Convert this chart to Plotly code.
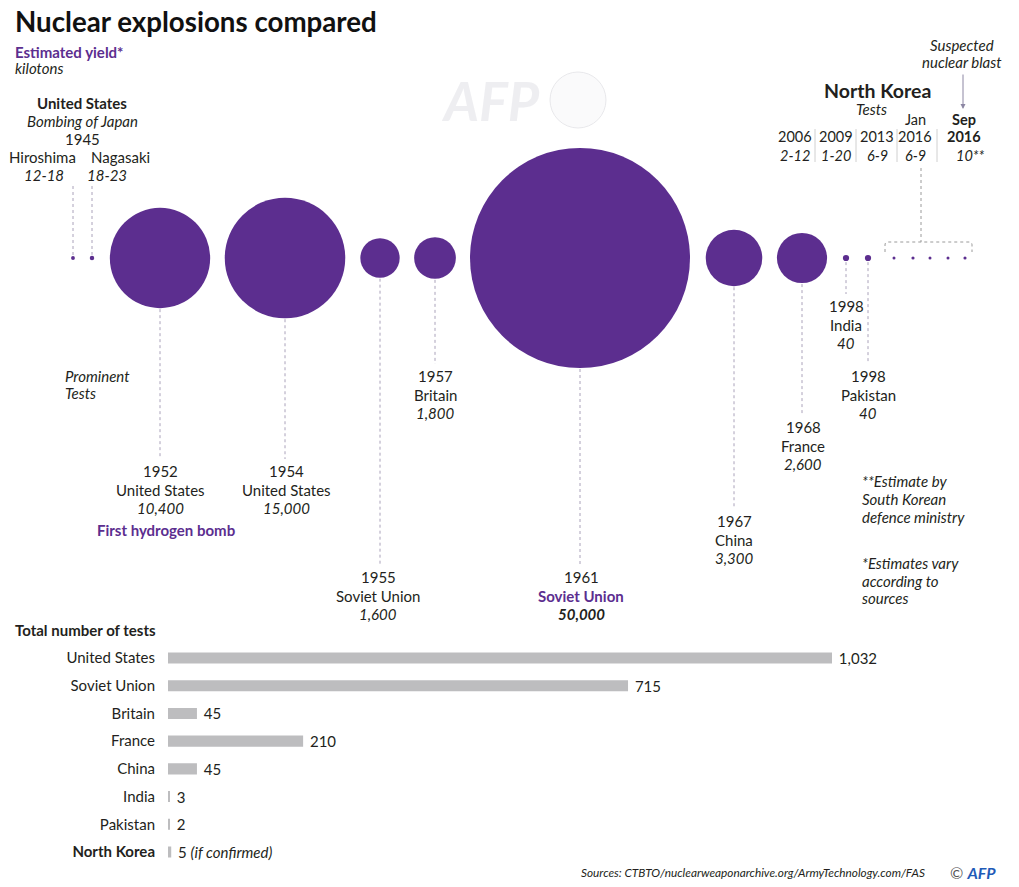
import plotly.graph_objects as go

# ---------------- DATA ----------------
events = ["Hiroshima", "Nagasaki", "1952 United States", "1954 United States",
          "1955 Soviet Union", "1957 Britain", "1961 Soviet Union", "1967 China",
          "1968 France", "1998 India", "1998 Pakistan", "NK 2006", "NK 2009",
          "NK 2013", "NK Jan 2016", "NK Sep 2016"]
yield_low = [12, 18, 10400, 15000, 1600, 1800, 50000, 3300, 2600, 40, 40, 2, 1, 6, 6, 10]
yield_high = [18, 23, 10400, 15000, 1600, 1800, 50000, 3300, 2600, 40, 40, 12, 20, 9, 9, 10]

test_countries = ["United States", "Soviet Union", "Britain", "France", "China",
                  "India", "Pakistan", "North Korea"]
test_counts = [1032, 715, 45, 210, 45, 3, 2, 5]
test_labels = ["1,032", "715", "45", "210", "45", "3", "2", "5 <i>(if confirmed)</i>"]

nk_years = ["2006", "2009", "2013", "Jan<br>2016", "<b>Sep<br>2016</b>"]
nk_yield_text = ["2-12", "1-20", "6-9", "6-9", "10**"]

# ---------------- LAYOUT / STYLE ----------------
W, H = 1019, 887
PURPLE = "#5c2e8f"
TXT = "#231f20"
LINE = "#aaa2ba"
FONT = "Lato"
FS = 15
LINE_Y = 258  # baseline of bubbles (pixel)
bubble_x = [73, 92, 160, 285, 380, 435, 580, 734, 802, 846, 868, 894, 913, 930, 948, 965]
MAX_D = 220  # diameter of the largest bubble (px)

yield_mid = [(a + b) / 2 for a, b in zip(yield_low, yield_high)]
sizeref = 2.0 * max(yield_mid) / MAX_D ** 2

fig = go.Figure()

fig.add_trace(go.Scatter(
    x=bubble_x, y=[LINE_Y] * len(bubble_x), mode="markers",
    marker=dict(size=yield_mid, sizemode="area", sizeref=sizeref, sizemin=1.5,
                color=PURPLE, opacity=1, line=dict(width=0)),
    text=events, hoverinfo="text", cliponaxis=False, xaxis="x", yaxis="y",
    showlegend=False))

fig.add_trace(go.Bar(
    x=test_counts, y=test_countries, orientation="h", xaxis="x2", yaxis="y2",
    marker=dict(color="#bdbdbf", line=dict(width=0)), width=0.4,
    text=["\u00a0" + t for t in test_labels], textposition="outside",
    constraintext="none",
    textfont=dict(family=FONT, size=FS, color=TXT), cliponaxis=False,
    showlegend=False, hoverinfo="x+y"))

annotations = []


def ann(x, y, text, size=FS, color=TXT, xanchor="center", **kw):
    annotations.append(dict(x=x, y=y, xref="x", yref="y", text=text, showarrow=False,
                            xanchor=xanchor, yanchor="middle",
                            font=dict(family=FONT, size=size, color=color), **kw))


def radius(i):
    return MAX_D / 2 * (yield_mid[i] / max(yield_mid)) ** 0.5


shapes = []


def vline(x, y0, y1, color=LINE, dash="dot"):
    shapes.append(dict(type="line", xref="x", yref="y", x0=x, x1=x, y0=y0, y1=y1,
                       line=dict(color=color, width=1, dash=dash)))


# Title block
ann(13, 21, "<b>Nuclear explosions compared</b>", size=27.7, color="#111", xanchor="left")
ann(13, 52, "<b>Estimated yield*</b>", size=FS, color=PURPLE, xanchor="left")
ann(13, 68, "<i>kilotons</i>", size=FS, xanchor="left")

# AFP watermark
ann(490, 100, "<b><i>AFP</i></b>", size=54, color="rgba(236,236,239,0.9)")
shapes.append(dict(type="circle", xref="x", yref="y", x0=550, x1=606, y0=72, y1=128,
                   line=dict(color="rgba(230,230,233,0.9)", width=1),
                   fillcolor="rgba(246,246,248,0.6)"))

# Bombing of Japan
ann(82, 103, "<b>United States</b>")
ann(82, 121, "<i>Bombing of Japan</i>")
ann(82, 139, "1945")
ann(42, 157, "Hiroshima")
ann(120, 157, "Nagasaki")
ann(44, 175, "<i>12-18</i>")
ann(107, 175, "<i>18-23</i>")
vline(bubble_x[0], 186, LINE_Y - radius(0) - 1)
vline(bubble_x[1], 186, LINE_Y - radius(1) - 1)

ann(63, 376, "<i>Prominent</i>", xanchor="left")
ann(63, 393, "<i>Tests</i>", xanchor="left")

# labels under prominent tests: (event index, centre x, top y, lines)
label_spec = [
    (2, 160, 471, ["1952", "United States", "<i>10,400</i>"]),
    (3, 286, 471, ["1954", "United States", "<i>15,000</i>"]),
    (4, 378, 577, ["1955", "Soviet Union", "<i>1,600</i>"]),
    (5, 435, 376, ["1957", "Britain", "<i>1,800</i>"]),
    (6, 581, 577, ["1961", "<b>Soviet Union</b>", "<b><i>50,000</i></b>"]),
    (7, 734, 521, ["1967", "China", "<i>3,300</i>"]),
    (8, 803, 427, ["1968", "France", "<i>2,600</i>"]),
    (9, 846, 306, ["1998", "India", "<i>40</i>"]),
    (10, 868, 376, ["1998", "Pakistan", "<i>40</i>"]),
]
for idx, cx, ty, lines in label_spec:
    for k, t in enumerate(lines):
        col = PURPLE if (idx == 6 and k == 1) else TXT
        ann(cx, ty + k * 18.5, t, color=col)
    vline(bubble_x[idx], LINE_Y + radius(idx) + 1, ty - 12)

ann(166, 530, "<b>First hydrogen bomb</b>", color=PURPLE)

# North Korea block
ann(877, 90, "<b>North Korea</b>", size=19.5)
ann(871, 109, "<i>Tests</i>")
NK_FS = 14.5
nk_cols = [795, 836, 877, 915, 964]
for cx, yr in zip(nk_cols, nk_years):
    if "<br>" in yr:
        a, b = yr.split("<br>")
        if a.startswith("<b>"):
            a, b = a + "</b>", "<b>" + b
        ann(cx, 119, a, size=NK_FS)
        ann(cx, 136, b, size=NK_FS)
    else:
        ann(cx, 136, yr, size=NK_FS)
nk_yield_x = [795, 836, 877, 915, 970]
for cx, yt in zip(nk_yield_x, nk_yield_text):
    ann(cx, 155, "<i>" + yt + "</i>", size=NK_FS)
for sx in [815, 856, 897, 937]:
    vline(sx, 129, 162, color="#d0d0d0", dash="solid")

# bracket over NK dots
shapes.append(dict(type="path", xref="x", yref="y",
                   path="M 885 252 L 885 245 Q 885 242 888 242 L 969 242 Q 972 242 972 245 L 972 252",
                   line=dict(color="#9a9a9a", width=1, dash="dot")))
vline(921, 168, 242, color="#9a9a9a")

ann(962, 45, "<i>Suspected</i>")
ann(962, 62, "<i>nuclear blast</i>")
annotations.append(dict(x=963, y=109, ax=963, ay=73, xref="x", yref="y", axref="x", ayref="y",
                        text="", showarrow=True, arrowhead=2, arrowsize=1, arrowwidth=1,
                        arrowcolor="#8c86a3"))

# footnotes
for k, t in enumerate(["**Estimate by", "South Korean", "defence ministry"]):
    ann(860, 481 + k * 18, "<i>" + t + "</i>", xanchor="left")
for k, t in enumerate(["*Estimates vary", "according to", "sources"]):
    ann(860, 563 + k * 17.5, "<i>" + t + "</i>", xanchor="left")

# bar chart title & sources
ann(13, 630, "<b>Total number of tests</b>", size=15, xanchor="left")
ann(927, 872, "<i>Sources: CTBTO/nuclearweaponarchive.org/ArmyTechnology.com/FAS</i>",
    size=11.8, xanchor="right")
ann(948, 872, "© <b><i><span style='color:#1f5bb8'>AFP</span></i></b>", size=16,
    color="#555", xanchor="left")

# bar axes geometry
BAR_X0 = 168
PX_PER_TEST = (832 - BAR_X0) / max(test_counts)
ROW0, ROW_STEP = 658, 27.71
band_top = ROW0 - ROW_STEP / 2
band_bot = ROW0 + ROW_STEP * (len(test_countries) - 1) + ROW_STEP / 2

fig.update_layout(
    width=W, height=H, margin=dict(l=0, r=0, t=0, b=0),
    paper_bgcolor="white", plot_bgcolor="rgba(0,0,0,0)",
    font=dict(family=FONT, color=TXT),
    xaxis=dict(domain=[0, 1], range=[0, W], visible=False, fixedrange=True),
    yaxis=dict(domain=[0, 1], range=[H, 0], visible=False, fixedrange=True),
    xaxis2=dict(domain=[BAR_X0 / W, 1], range=[0, (W - BAR_X0) / PX_PER_TEST],
                anchor="y2", visible=False),
    yaxis2=dict(domain=[1 - band_bot / H, 1 - band_top / H], anchor="x2",
                range=[len(test_countries) - 0.5, -0.5], showgrid=False, zeroline=False,
                showline=False, ticks="outside", ticklen=9, tickcolor="rgba(0,0,0,0)",
                tickmode="array", tickvals=test_countries,
                ticktext=[("<b>%s</b>" % c) if c == "North Korea" else c for c in test_countries],
                tickfont=dict(family=FONT, size=FS, color=TXT)),
    annotations=annotations, shapes=shapes,
)

fig.write_html("out.html", config={"displayModeBar": False},
               post_script="document.body.style.margin='0';")
